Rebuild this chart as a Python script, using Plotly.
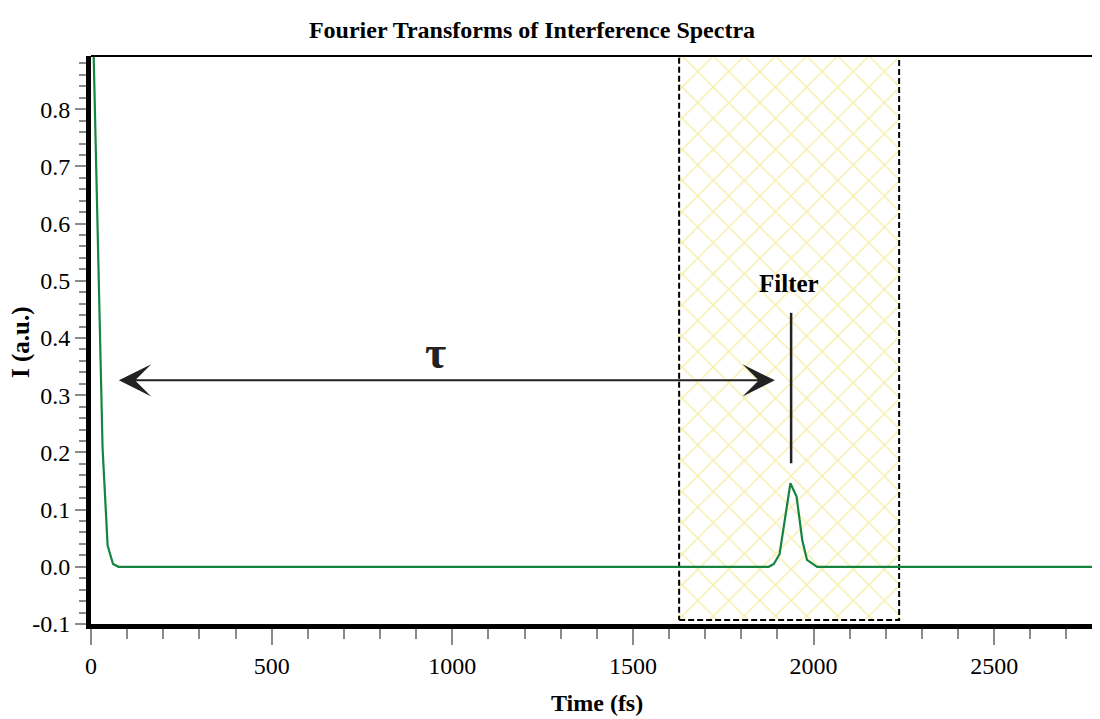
import plotly.graph_objects as go

# ---- data ----
time_fs = [0, 32, 46, 61, 76, 1876, 1890, 1906, 1936, 1953, 1969, 1982, 2010, 2793]
intensity = [1.10, 0.208, 0.037, 0.005, 0.0, 0.0, 0.005, 0.022, 0.146, 0.123, 0.046, 0.012, 0.0, 0.0]

x_ticks = [0, 500, 1000, 1500, 2000, 2500]
y_ticks = [-0.1, 0.0, 0.1, 0.2, 0.3, 0.4, 0.5, 0.6, 0.7, 0.8]
x_range = [0, 2793]
y_range = [-0.1, 0.893]

filter_x = [1628, 2237, 2237, 1628, 1628]
filter_y = [-0.093, -0.093, 0.95, 0.95, -0.093]

tau_arrow_x = [73, 1893]
tau_arrow_y = 0.326
tau_label_xy = (954, 0.375)
filter_label_xy = (1932, 0.496)
filter_mark_x = [1938, 1938]
filter_mark_y = [0.181, 0.444]

serif = "Liberation Serif"
green = "#16843f"
tick_gray = "#8a8a8a"

# page body has an 8px margin, so the figure is 8px smaller than the window
W, H = 1092, 711
ML, MR, MT, MB = 83, 0, 48, 95
PW, PH = W - ML - MR, H - MT - MB

fig = go.Figure()

# filter window (hatched)
fig.add_trace(go.Scatter(
    x=filter_x, y=filter_y, mode="lines", fill="toself",
    fillcolor="rgba(0,0,0,0)",
    fillpattern=dict(shape="x", fgcolor="#f0df5a", bgcolor="white", size=22, solidity=0.13),
    line=dict(color="black", width=2, dash="6px,3px"),
    hoverinfo="skip", showlegend=False,
))

# signal
fig.add_trace(go.Scatter(
    x=time_fs, y=intensity, mode="lines",
    line=dict(color=green, width=2.2),
    showlegend=False,
))

# filter marker line
fig.add_trace(go.Scatter(
    x=filter_mark_x, y=filter_mark_y, mode="lines",
    line=dict(color="#222222", width=2.5),
    showlegend=False, hoverinfo="skip",
))

# double arrow for tau
fig.add_annotation(
    x=tau_arrow_x[1], y=tau_arrow_y, ax=tau_arrow_x[0], ay=tau_arrow_y,
    xref="x", yref="y", axref="x", ayref="y",
    text="", showarrow=True, arrowside="end+start",
    arrowhead=3, startarrowhead=3, arrowsize=2.7, startarrowsize=2.7,
    arrowwidth=2, arrowcolor="#222222",
)
fig.add_annotation(
    x=tau_label_xy[0], y=tau_label_xy[1], xref="x", yref="y",
    text="<b>τ</b>", showarrow=False,
    font=dict(family=serif, size=46, color="#222222"),
)
fig.add_annotation(
    x=filter_label_xy[0], y=filter_label_xy[1], xref="x", yref="y",
    text="<b>Filter</b>", showarrow=False,
    font=dict(family=serif, size=25, color="black"),
)

# axis titles
fig.add_annotation(
    x=(589 - ML) / PW, y=(MT + PH - 695) / PH, xref="paper", yref="paper",
    text="<b>Time (fs)</b>", showarrow=False, xanchor="center", yanchor="middle",
    font=dict(family=serif, size=24, color="black"),
)
fig.add_annotation(
    x=(13 - ML) / PW, y=(MT + PH - 334) / PH, xref="paper", yref="paper",
    text="<b>I (a.u.)</b>", showarrow=False, textangle=-90,
    xanchor="center", yanchor="middle",
    font=dict(family=serif, size=25, color="black"),
)

# top border
fig.add_shape(type="line", xref="x domain", yref="y domain",
              x0=0, x1=1, y0=1, y1=1, line=dict(color="black", width=2))

fig.update_layout(
    width=W, height=H,
    margin=dict(l=ML, r=MR, t=MT, b=MB),
    paper_bgcolor="white", plot_bgcolor="white",
    font=dict(family=serif, color="black"),
    title=dict(text="<b>Fourier Transforms of Interference Spectra</b>",
               xref="container", x=524 / W, xanchor="center",
               yref="container", y=1 - 22 / H, yanchor="middle",
               font=dict(family=serif, size=24, color="black")),
)

fig.update_xaxes(
    range=x_range, tickvals=x_ticks, ticktext=[str(v) for v in x_ticks],
    showgrid=False, zeroline=False, automargin=False,
    showline=True, linewidth=5, linecolor="black",
    ticks="outside", ticklen=16, tickwidth=2, tickcolor=tick_gray,
    minor=dict(dtick=100, ticks="outside", ticklen=10, tickwidth=2, tickcolor=tick_gray),
    tickfont=dict(family=serif, size=24, color="black"),
)
fig.update_yaxes(
    range=y_range, tickvals=y_ticks, ticktext=[f"{v:.1f}" for v in y_ticks],
    showgrid=False, zeroline=False, automargin=False,
    showline=True, linewidth=5, linecolor="black",
    ticks="outside", ticklen=11, tickwidth=2, tickcolor=tick_gray,
    minor=dict(dtick=0.02, tick0=0, ticks="outside", ticklen=7, tickwidth=2, tickcolor=tick_gray),
    tickfont=dict(family=serif, size=24, color="black"),
)

fig.write_html("out.html")
